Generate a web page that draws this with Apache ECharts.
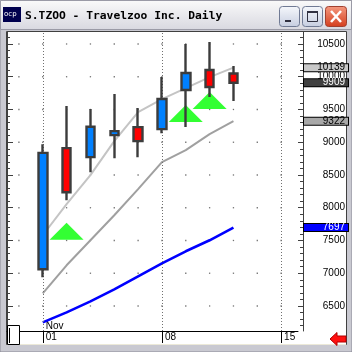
<!DOCTYPE html>
<html><head><meta charset="utf-8">
<script src="https://cdn.jsdelivr.net/npm/echarts@6/dist/echarts.min.js"></script>
<style>html,body{margin:0;padding:0;background:#c9c9d1}#c{width:352px;height:352px}</style>
</head><body><div id="c"></div>
<script>
const titleText = 'S.TZOO - Travelzoo Inc. Daily';
const dates = ['11/01','11/02','11/03','11/04','11/05','11/08','11/09','11/10','11/11'];
const dayIndex = [0, 1, 2, 3, 4, 5, 6, 7, 8];
const opens  = [7060, 8910, 8772, 9109, 9231, 9200, 9797, 10102, 10050];
const closes = [8838, 8237, 9236, 9170, 9017, 9659, 10057, 9843, 9909];
const lows   = [6937, 8115, 8543, 8757, 8772, 9139, 9231, 9690, 9628];
const highs  = [8971, 9552, 9506, 9735, 9521, 9995, 10500, 10531, 10164];
const avgFast = [7580, 8054, 8497, 9017, 9460, 9659, 9827, 9995, 10139];
const avgMid  = [6693, 7121, 7503, 7885, 8283, 8696, 8879, 9124, 9322];
const avgSlow = [6249, 6402, 6570, 6754, 6953, 7151, 7335, 7503, 7697];
const signalIdx = [1, 6, 7];
const signalVal = [7641, 9437, 9636];
const xTickPos = [0, 5, 10];
const xTickText = ['01', '08', '15'];
const monthText = 'Nov';
const yMajor = [6500, 7000, 7500, 8000, 8500, 9000, 9500, 10000, 10500];
const yMinor = [6200,6300,6400,6500,6600,6700,6800,6900,7000,7100,7200,7300,7400,7500,7600,7700,7800,7900,8000,8100,8200,8300,8400,8500,8600,8700,8800,8900,9000,9100,9200,9300,9400,9500,9600,9700,9800,9900,10000,10100,10200,10300,10400,10500,10600];
const lastLabels = [10139, 9909, 9322, 7697];

const Y_MIN = 6118, Y_MAX = 10683;
const X_MIN = -1.5, X_MAX = 10.708;
const NUM_FONT = '"Liberation Sans", Arial, sans-serif';

const candleData = dayIndex.map((d, i) => [d, opens[i], closes[i], lows[i], highs[i]]);
const pairs = arr => dayIndex.map((d, i) => [d, arr[i]]);
const signalData = signalIdx.map((d, i) => [d, signalVal[i]]);
const dotData = [];
for (let x = Math.ceil(X_MIN); x <= Math.floor(X_MAX); x++) {
  yMajor.forEach(v => dotData.push([x, v]));
}

const boxStyles = [
  {backgroundColor: '#c8c8c8', color: '#000'},
  {backgroundColor: '#404040', color: '#fff'},
  {backgroundColor: '#a8a8a8', color: '#000'},
  {backgroundColor: '#0000ff', color: '#fff'}
];
const boxRich = {};
boxStyles.forEach((s, i) => {
  boxRich['b' + i] = {
    width: 41, height: 7, lineHeight: 8, align: 'right', padding: [0, 3, 0, 0],
    backgroundColor: s.backgroundColor, color: s.color, borderColor: '#000', borderWidth: 1,
    fontSize: 10, fontFamily: NUM_FONT
  };
});

function yAx(extra) {
  return Object.assign({
    type: 'value', min: Y_MIN, max: Y_MAX, splitLine: {show: false},
    axisLine: {show: false, onZero: false}, axisTick: {show: false}, axisLabel: {show: false}
  }, extra);
}

const grad = (a, b) => new echarts.graphic.LinearGradient(0, 0, 0, 1, [{offset: 0, color: a}, {offset: 1, color: b}]);

const option = {
  animation: false,
  backgroundColor: '#c9c9d1',
  grid: {left: 7, top: 32, width: 293, height: 299},
  xAxis: {
    type: 'value', min: X_MIN, max: X_MAX, splitLine: {show: false},
    axisLine: {show: true, onZero: false, lineStyle: {color: '#000', width: 1}},
    axisTick: {show: true, customValues: xTickPos, length: 12, lineStyle: {color: '#000', width: 1}},
    axisLabel: {
      customValues: xTickPos, margin: -10, align: 'left', verticalAlign: 'top', padding: [0, 0, 0, 3],
      formatter: v => {
        const i = xTickPos.indexOf(v);
        return '{m|' + (i === 0 ? monthText : ' ') + '}\n{d|' + xTickText[i] + '}';
      },
      rich: {
        m: {fontSize: 10, lineHeight: 11, fontFamily: NUM_FONT, color: '#000'},
        d: {fontSize: 10, lineHeight: 11, fontFamily: NUM_FONT, color: '#000'}
      }
    }
  },
  yAxis: [
    yAx({position: 'right', offset: 5,
      axisLine: {show: true, onZero: false, lineStyle: {color: '#404040'}},
      axisTick: {show: true, inside: true, length: 5, customValues: yMajor, lineStyle: {color: '#404040'}},
      axisLabel: {show: true, customValues: yMajor, formatter: v => String(v), align: 'right', margin: 42,
        fontSize: 10, fontFamily: NUM_FONT, color: '#000'}}),
    yAx({position: 'right', offset: 5,
      axisTick: {show: true, inside: true, length: 3, customValues: yMinor, lineStyle: {color: '#404040'}}}),
    yAx({position: 'left',
      axisLine: {show: true, onZero: false, lineStyle: {color: '#404040'}},
      axisTick: {show: true, inside: true, length: 6, customValues: yMajor, lineStyle: {color: '#404040'}}}),
    yAx({position: 'left',
      axisTick: {show: true, inside: true, length: 3, customValues: yMinor, lineStyle: {color: '#404040'}}}),
    yAx({position: 'right', offset: 6, z: 10,
      axisLabel: {show: true, customValues: lastLabels, margin: 0, align: 'left',
        formatter: v => '{b' + lastLabels.indexOf(v) + '|' + v + '}', rich: boxRich}})
  ],
  series: [
    {type: 'scatter', name: 'grid', data: dotData, symbol: 'rect', symbolSize: 1.3, z: 1, silent: true,
      itemStyle: {color: '#505050'},
      markLine: {silent: true, symbol: ['none', 'none'], label: {show: false},
        lineStyle: {color: '#707070', width: 1, type: [1, 2]},
        data: xTickPos.map(p => ({xAxis: p}))}},
    {type: 'scatter', name: 'signal', data: signalData, symbol: 'triangle', symbolSize: [34, 17], z: 2,
      itemStyle: {color: '#00ff00'}},
    {type: 'line', name: 'slow', data: pairs(avgSlow), symbol: 'none', z: 3,
      lineStyle: {color: '#0000ff', width: 2.6}},
    {type: 'line', name: 'mid', data: pairs(avgMid), symbol: 'none', z: 3,
      lineStyle: {color: '#a0a0a0', width: 2}},
    {type: 'line', name: 'fast', data: pairs(avgFast), symbol: 'none', z: 3,
      lineStyle: {color: '#c4c4c4', width: 2}},
    {type: 'candlestick', name: 'TZOO', data: candleData, encode: {x: 0, y: [1, 2, 3, 4]},
      barWidth: 9, z: 5,
      itemStyle: {color: '#0080ff', color0: '#ff0000', borderColor: '#3c3c3c', borderColor0: '#3c3c3c', borderWidth: 2.4}}
  ],
  graphic: [
    {type: 'rect', z: -100, silent: true, shape: {x: 0, y: 0, width: 352, height: 352}, style: {fill: '#c9c9d1', stroke: '#8a8a96', lineWidth: 1}},
    {type: 'rect', z: -100, silent: true, shape: {x: 0.5, y: 0.5, width: 351, height: 29}, style: {fill: grad('#fafafa', '#d8d8e0'), stroke: '#9a9aa6', lineWidth: 1}},
    {type: 'rect', z: -100, silent: true, shape: {x: 6.5, y: 31.5, width: 340, height: 313}, style: {fill: '#ffffff', stroke: '#404040', lineWidth: 1}},
    {type: 'line', z: -99, silent: true, shape: {x1: 7, y1: 344.5, x2: 346, y2: 344.5}, style: {stroke: '#ece9d8', lineWidth: 1}},
    {type: 'rect', z: 100, silent: true, shape: {x: 3, y: 7, width: 18, height: 15}, style: {fill: '#00004e'}},
    {type: 'text', z: 101, silent: true, style: {text: 'ocp', x: 4, y: 14, fill: '#ffffff', font: '7px "DejaVu Sans"', verticalAlign: 'middle'}},
    {type: 'text', z: 101, silent: true, style: {text: titleText, x: 25, y: 16, fill: '#000', font: 'bold 11.3px "DejaVu Sans Mono"', verticalAlign: 'middle'}},
    {type: 'rect', z: 100, silent: true, shape: {x: 279.5, y: 6.5, width: 20, height: 20, r: 3}, style: {fill: grad('#f6f8fc', '#c6cde0'), stroke: '#707a94', lineWidth: 1}},
    {type: 'rect', z: 101, silent: true, shape: {x: 285, y: 20, width: 6, height: 2}, style: {fill: '#303040'}},
    {type: 'rect', z: 100, silent: true, shape: {x: 302.5, y: 6.5, width: 20, height: 20, r: 3}, style: {fill: grad('#f6f8fc', '#c6cde0'), stroke: '#707a94', lineWidth: 1}},
    {type: 'rect', z: 101, silent: true, shape: {x: 307.5, y: 11.5, width: 10, height: 10}, style: {fill: 'none', stroke: '#303040', lineWidth: 1}},
    {type: 'rect', z: 101, silent: true, shape: {x: 307, y: 11, width: 11, height: 2}, style: {fill: '#303040'}},
    {type: 'rect', z: 100, silent: true, shape: {x: 325.5, y: 6.5, width: 21, height: 20, r: 3}, style: {fill: grad('#f49a80', '#d43c1c'), stroke: '#a04030', lineWidth: 1}},
    {type: 'line', z: 101, silent: true, shape: {x1: 331, y1: 11, x2: 341, y2: 22}, style: {stroke: '#ffffff', lineWidth: 2.5}},
    {type: 'line', z: 101, silent: true, shape: {x1: 341, y1: 11, x2: 331, y2: 22}, style: {stroke: '#ffffff', lineWidth: 2.5}},
    {type: 'rect', z: 100, silent: true, shape: {x: 7.5, y: 325.5, width: 12, height: 19}, style: {fill: '#ffffff', stroke: '#000', lineWidth: 1}},
    {type: 'line', z: 101, silent: true, shape: {x1: 9.5, y1: 328, x2: 9.5, y2: 343}, style: {stroke: '#000', lineWidth: 1}},
    {type: 'polygon', z: 100, silent: true, shape: {points: [[330, 339], [337, 332.5], [337, 336], [346, 336], [346, 342], [337, 342], [337, 345.5]]}, style: {fill: '#ff1010', stroke: '#b00000', lineWidth: 1}}
  ]
};
const chart = echarts.init(document.getElementById('c'), null, {renderer: 'canvas'});
chart.setOption(option);
</script>
</body></html>
